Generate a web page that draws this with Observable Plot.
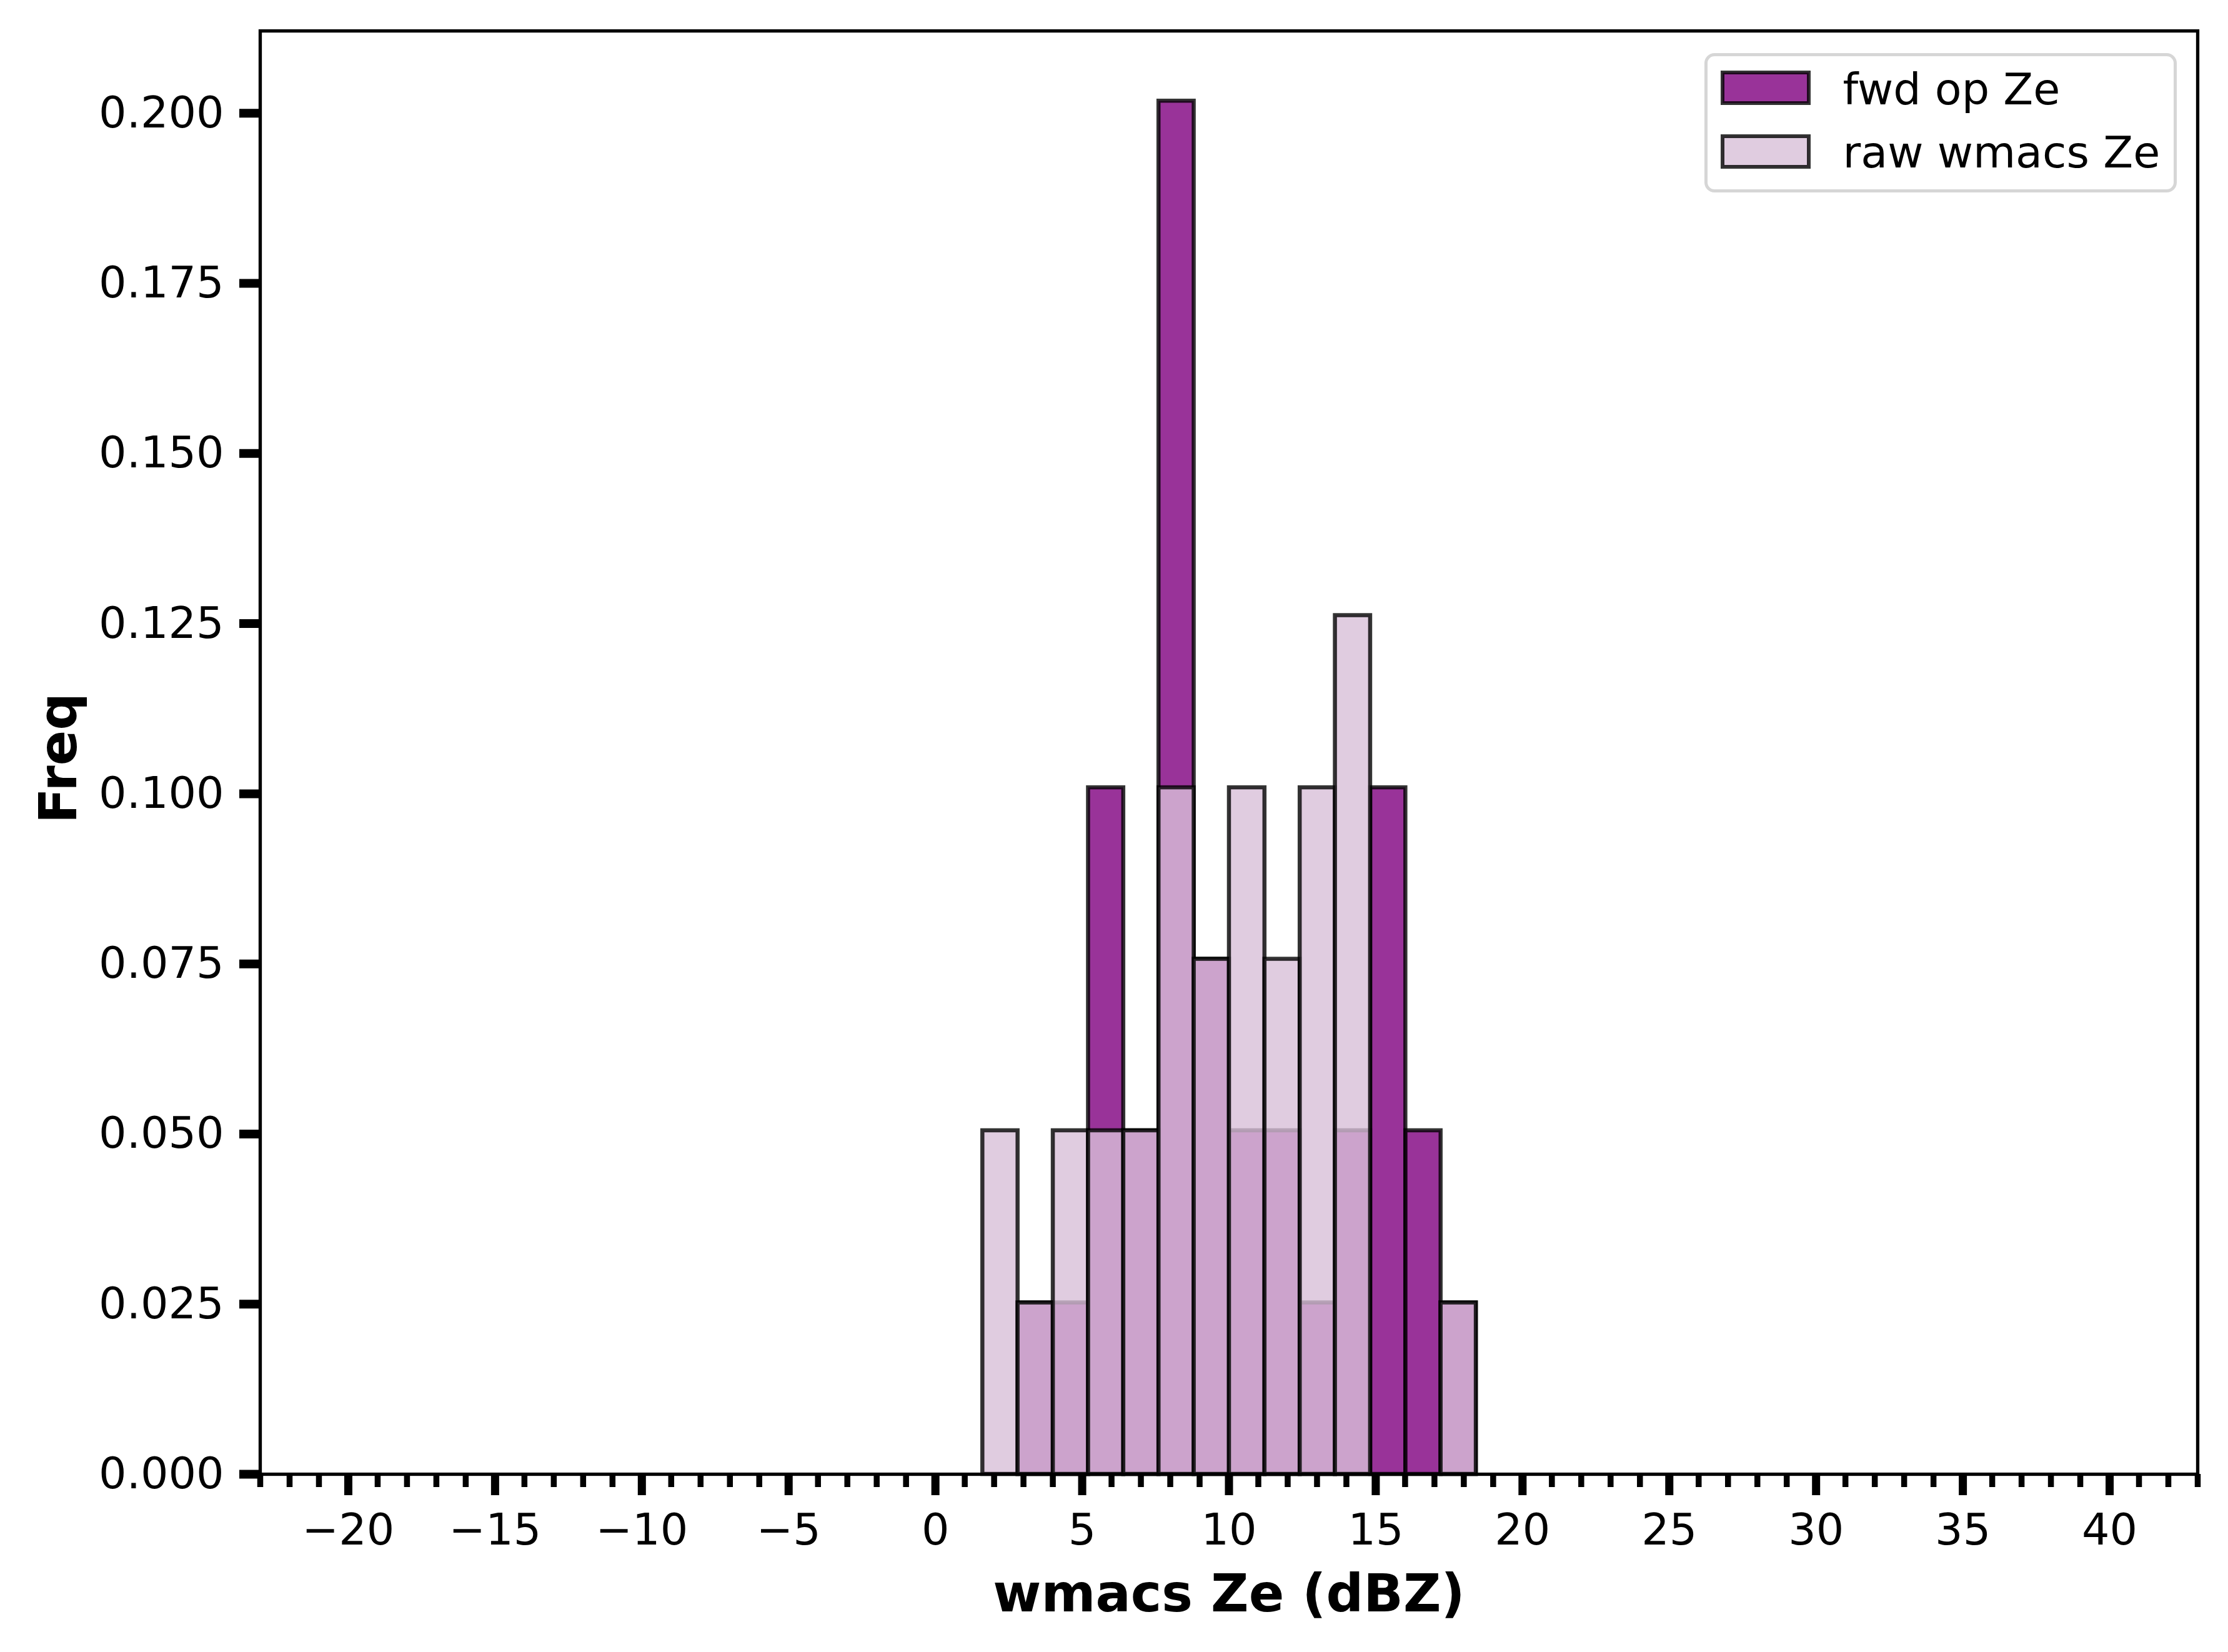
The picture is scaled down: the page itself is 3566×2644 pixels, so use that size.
<!DOCTYPE html>
<html>
<head>
<meta charset="utf-8">
<script src="https://cdn.jsdelivr.net/npm/d3@7"></script>
<script src="https://cdn.jsdelivr.net/npm/@observablehq/plot@0.6"></script>
<style>
  html, body { margin: 0; padding: 0; background: #fff; }
  #wrap { position: relative; width: 3566px; height: 2644px; overflow: hidden; font-family: "DejaVu Sans", sans-serif; }
  #wrap svg { display: block; max-width: none; }
  .legend-box { position: absolute; left: 2728px; top: 85px; width: 756px; height: 223px; box-sizing: border-box;
    border: 5px solid #d6d6d6; border-radius: 16px; background: rgba(255,255,255,0.8); }
  .sw-outer { position: absolute; width: 144px; height: 55px; box-sizing: border-box; border: 3.25px solid rgba(0,0,0,0.8); }
  .sw-inner { position: absolute; left: 0; top: 0; right: 0; bottom: 0; box-sizing: border-box; border: 3.25px solid rgba(0,0,0,0.8); }
  .lg-text { position: absolute; font-family: "DejaVu Sans", sans-serif; font-size: 70px; line-height: 70px; white-space: nowrap; color: #000; }
</style>
</head>
<body>
<div id="wrap"></div>
<script>
// ---- data ----
const seriesNames = ["fwd op Ze", "raw wmacs Ze"];
const seriesFill = ["purple", "thistle"];
const binEdges = [1.61, 2.81, 4.01, 5.21, 6.41, 7.61, 8.81, 10.01, 11.22, 12.42, 13.62, 14.82, 16.02, 17.22, 18.42];
const fwdOpZe    = [0, 0.0252, 0.0252, 0.1009, 0.0505, 0.2018, 0.0757, 0.0505, 0.0505, 0.0252, 0.0505, 0.1009, 0.0505, 0.0252];
const rawWmacsZe = [0.0505, 0.0252, 0.0505, 0.0505, 0.0505, 0.1009, 0.0757, 0.1009, 0.0757, 0.1009, 0.1262, 0, 0, 0.0252];
const xMajorTicks = [-20, -15, -10, -5, 0, 5, 10, 15, 20, 25, 30, 35, 40];
const xMinorTicks = d3.range(-23, 44, 1);
const yTicks = [0, 0.025, 0.05, 0.075, 0.1, 0.125, 0.15, 0.175, 0.2];
const xLabel = "wmacs Ze (dBZ)";
const yLabel = "Freq";

const toRows = (vals) => vals
  .map((v, i) => ({x1: binEdges[i], x2: binEdges[i + 1], freq: v}))
  .filter(d => d.freq > 0);

const fwdRows = toRows(fwdOpZe);
const rawRows = toRows(rawWmacsZe);

const minusFmt = d => (d < 0 ? "\u2212" + Math.abs(d) : String(d));

const barStyle = {fillOpacity: 0.8, stroke: "black", strokeOpacity: 0.8, strokeWidth: 6.5};

const chart = Plot.plot({
  width: 3566,
  height: 2644,
  marginLeft: 416,
  marginRight: 49,
  marginTop: 49,
  marginBottom: 285,
  style: {fontFamily: "DejaVu Sans", background: "white", color: "black"},
  x: {domain: [-23, 43]},
  y: {domain: [0, 0.2121]},
  marks: [
    Plot.rectY(fwdRows, {x1: "x1", x2: "x2", y: "freq", fill: seriesFill[0], ...barStyle}),
    Plot.rectY(rawRows, {x1: "x1", x2: "x2", y: "freq", fill: seriesFill[1], ...barStyle}),
    Plot.axisX({ticks: xMinorTicks, tickSize: 21, strokeWidth: 9.5, tickFormat: () => "", label: null}),
    Plot.axisX({ticks: xMajorTicks, tickSize: 34, strokeWidth: 13, tickPadding: 29, tickFormat: minusFmt, fontSize: 70, label: null}),
    Plot.axisY({ticks: yTicks, tickSize: 33, strokeWidth: 14, tickPadding: 25, tickFormat: d3.format(".3f"), fontSize: 70, label: null}),
    Plot.frame({stroke: "black", strokeWidth: 5.3}),
    Plot.text([xLabel], {frameAnchor: "bottom", textAnchor: "middle", dy: 219, lineAnchor: "bottom", fontSize: 83.5, fontWeight: "bold", fill: "black"}),
    Plot.text([yLabel], {frameAnchor: "left", textAnchor: "middle", rotate: -90, dx: -295, dy: 9, lineAnchor: "bottom", fontSize: 83.5, fontWeight: "bold", fill: "black"})
  ]
});

const wrap = document.getElementById("wrap");
wrap.appendChild(chart);

// ---- legend (HTML, over the top-right corner of the plot) ----
const box = document.createElement("div");
box.className = "legend-box";
wrap.appendChild(box);

const swatchTops = [113, 214.5];
const textTops = [107.5, 208.5];
seriesNames.forEach((name, i) => {
  const outer = document.createElement("div");
  outer.className = "sw-outer";
  outer.style.left = "2754px";
  outer.style.top = swatchTops[i] + "px";
  const inner = document.createElement("div");
  inner.className = "sw-inner";
  const c = d3.color(seriesFill[i]);
  c.opacity = 0.8;
  inner.style.background = c.formatRgb();
  outer.appendChild(inner);
  wrap.appendChild(outer);

  const t = document.createElement("div");
  t.className = "lg-text";
  t.style.left = "2949.5px";
  t.style.top = textTops[i] + "px";
  t.textContent = name;
  wrap.appendChild(t);
});
</script>
</body>
</html>
